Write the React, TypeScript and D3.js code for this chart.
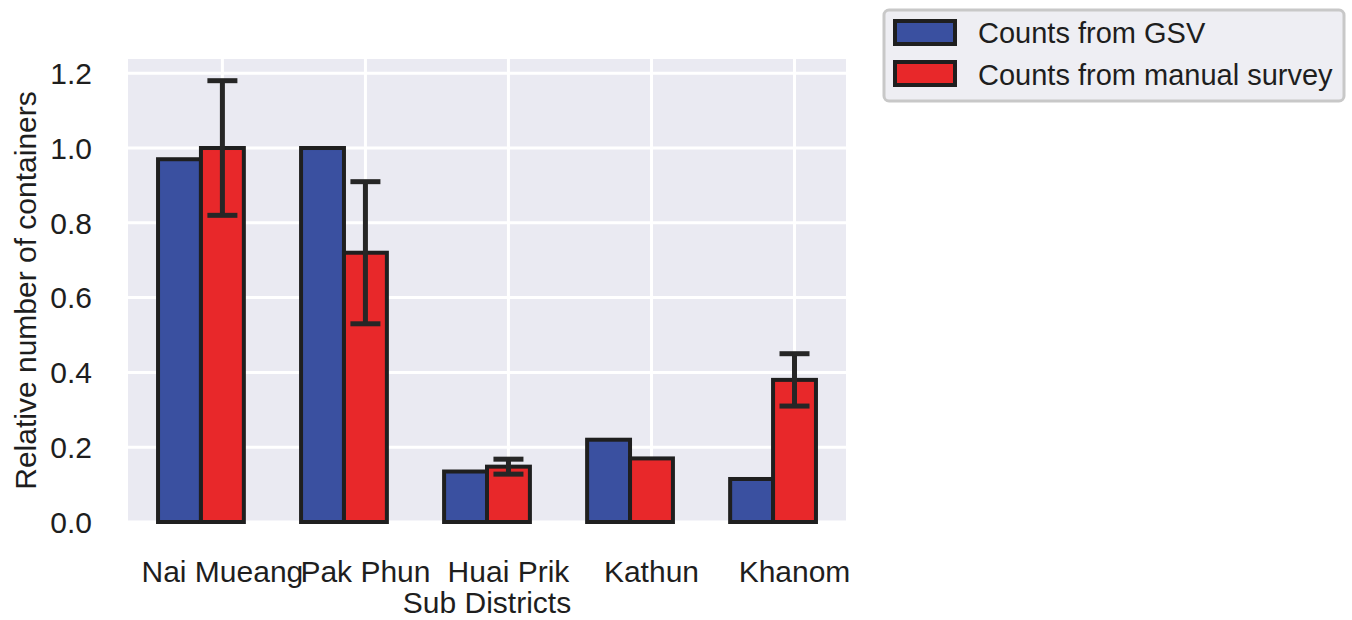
import React from "react";
import * as d3 from "d3";

// Relative container counts per sub-district
const categories = ["Nai Mueang", "Pak Phun", "Huai Prik", "Kathun", "Khanom"];
const gsvCounts = [0.97, 1.0, 0.135, 0.22, 0.115];
const surveyCounts = [1.0, 0.72, 0.148, 0.17, 0.38];
const surveyErrors = [0.18, 0.19, 0.02, 0, 0.07];
const yTicks = [0, 0.2, 0.4, 0.6, 0.8, 1.0, 1.2];
const seriesNames = ["Counts from GSV", "Counts from manual survey"];

const W = 1352;
const H = 620;
const plot = { left: 128, right: 846, top: 59, bottom: 522 };
const BLUE = "#3a50a0";
const RED = "#e8282a";
const EDGE = "#1f1f1f";
const BG = "#eaeaf2";
const INK = "#1e1e1e";
const FONT = "'Liberation Sans', Arial, Helvetica, sans-serif";
const FS = 30;
const BAR_W = 0.3;

export default function App() {
  const x = d3.scaleLinear().domain([-0.66, 4.36]).range([plot.left, plot.right]);
  const y = d3.scaleLinear().domain([0, 1.238]).range([plot.bottom, plot.top]);

  const bars = categories.flatMap((c, i) => [
    { key: `g-${c}`, x0: i - 1.5 * BAR_W, v: gsvCounts[i], fill: BLUE },
    { key: `s-${c}`, x0: i - 0.5 * BAR_W, v: surveyCounts[i], fill: RED },
  ]);

  return (
    <svg
      width={W}
      height={H}
      style={{ position: "absolute", left: 0, top: 0, background: "#fff" }}
      fontFamily={FONT}
    >
      {/* plot background */}
      <rect x={plot.left} y={plot.top} width={plot.right - plot.left} height={plot.bottom - plot.top} fill={BG} />
      {/* grid */}
      {yTicks.map((t) => (
        <line key={`gy${t}`} x1={plot.left} x2={plot.right} y1={y(t)} y2={y(t)} stroke="#fff" strokeWidth={3} />
      ))}
      {categories.map((c, i) => (
        <line key={`gx${c}`} x1={x(i)} x2={x(i)} y1={plot.top} y2={plot.bottom} stroke="#fff" strokeWidth={3} />
      ))}
      {/* bars */}
      {bars.map((b) => (
        <rect
          key={b.key}
          x={x(b.x0)}
          y={y(b.v)}
          width={x(b.x0 + BAR_W) - x(b.x0)}
          height={y(0) - y(b.v)}
          fill={b.fill}
          stroke={EDGE}
          strokeWidth={4}
        />
      ))}
      {/* error bars on manual survey counts */}
      {categories.map((c, i) => {
        const e = surveyErrors[i];
        if (!e) return null;
        const cx = x(i);
        const hi = y(surveyCounts[i] + e);
        const lo = y(surveyCounts[i] - e);
        return (
          <g key={`e${c}`} stroke="#262626" strokeWidth={5}>
            <line x1={cx} x2={cx} y1={hi} y2={lo} />
            <line x1={cx - 15} x2={cx + 15} y1={hi} y2={hi} />
            <line x1={cx - 15} x2={cx + 15} y1={lo} y2={lo} />
          </g>
        );
      })}
      {/* y tick labels */}
      {yTicks.map((t) => (
        <text key={`ty${t}`} x={92} y={y(t)} dy="0.36em" textAnchor="end" fontSize={FS} fill={INK}>
          {d3.format(".1f")(t)}
        </text>
      ))}
      {/* x tick labels */}
      {categories.map((c, i) => (
        <text key={`tx${c}`} x={x(i)} y={582} textAnchor="middle" fontSize={FS} fill={INK}>
          {c}
        </text>
      ))}
      {/* axis titles */}
      <text x={(plot.left + plot.right) / 2} y={613} textAnchor="middle" fontSize={FS} fill={INK}>
        Sub Districts
      </text>
      <text
        transform={`translate(36,${(plot.top + plot.bottom) / 2}) rotate(-90)`}
        textAnchor="middle"
        fontSize={FS}
        fill={INK}
      >
        Relative number of containers
      </text>
      {/* legend */}
      <rect x={884} y={10} width={460} height={91} rx={5} fill="#eeeef3" stroke="#c8c8c8" strokeWidth={3} />
      {[BLUE, RED].map((col, k) => (
        <g key={`lg${k}`}>
          <rect x={895} y={21 + k * 41} width={60} height={23} fill={col} stroke={EDGE} strokeWidth={4} />
          <text x={978} y={43 + k * 42} fontSize={29} fill={INK}>
            {seriesNames[k]}
          </text>
        </g>
      ))}
    </svg>
  );
}
